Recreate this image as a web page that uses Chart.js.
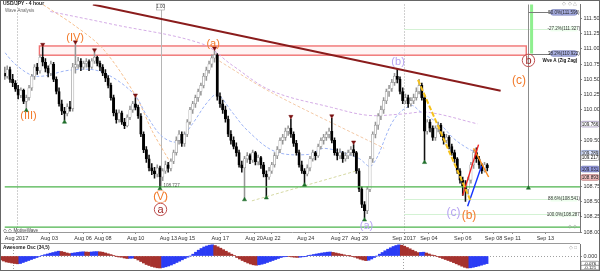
<!DOCTYPE html>
<html><head><meta charset="utf-8">
<script src="https://cdn.jsdelivr.net/npm/chart.js@4.4.1/dist/chart.umd.min.js"></script>
<style>
html,body{margin:0;padding:0;background:#fff;}
#wrap{position:relative;width:600px;height:271px;overflow:hidden;background:#fff}
canvas{position:absolute;left:0}
#main{top:0}
#osc{top:244px}
#frame{position:absolute;left:0;top:0;width:600px;height:271px;box-sizing:border-box;border:1px solid #666;pointer-events:none}
</style></head><body>
<div id="wrap"><canvas id="main" width="600" height="244"></canvas><canvas id="osc" width="600" height="27"></canvas><div id="frame"></div></div>
<script>
// ---------------- DATA ----------------
const opens = [
110.60,110.55,110.66,110.50,110.44,110.34,110.24,110.32,110.14,110.20,
110.36,110.55,110.70,110.64,110.86,110.78,110.68,110.60,110.75,110.50,
110.30,110.10,109.98,109.94,110.05,110.02,110.70,110.74,110.80,110.70,
110.76,110.79,110.70,110.80,110.86,110.76,110.70,110.60,110.52,110.40,
110.20,109.95,109.84,109.95,109.80,109.74,109.88,110.00,110.10,110.04,
109.90,109.60,109.35,109.20,109.05,109.00,108.95,109.05,108.90,109.00,
109.10,109.04,109.16,109.30,109.50,109.60,109.45,109.60,109.80,110.00,
110.10,110.20,110.30,110.40,110.55,110.65,110.75,110.85,110.90,110.22,
110.10,110.00,109.85,109.60,109.50,109.40,109.30,109.10,109.05,109.20,
109.25,109.18,109.30,109.15,109.22,109.10,108.95,108.90,109.00,109.10,
109.25,109.35,109.50,109.55,109.65,109.70,109.60,109.45,109.30,109.10,
109.00,108.95,109.05,109.20,109.30,109.25,109.40,109.50,109.55,109.60,
109.65,109.50,109.30,109.25,109.30,109.20,109.25,109.30,109.35,109.30,
109.00,108.70,108.45,108.35,108.70,109.20,109.60,109.75,109.90,110.00,
110.15,110.30,110.35,110.45,110.55,110.50,110.30,110.15,110.20,110.10,
110.15,110.20,110.30,110.40,110.20,109.65,109.80,109.70,109.55,109.70,
109.75,109.60,109.50,109.55,109.40,109.30,109.20,109.00,108.85,108.75,
108.70,108.85,109.10,109.30,109.20,109.10,109.00,109.10];
const highs = [
110.70,110.72,110.70,110.58,110.48,110.40,110.36,110.34,110.24,110.40,
110.58,110.74,110.76,110.90,111.03,110.84,110.72,110.80,110.78,110.54,
110.36,110.16,110.04,110.10,110.14,110.76,111.07,110.86,110.84,110.80,
110.84,110.82,110.84,110.94,110.88,110.80,110.74,110.66,110.56,110.44,
110.24,110.00,110.00,109.98,109.86,109.92,110.06,110.14,110.20,110.08,
109.94,109.64,109.40,109.26,109.12,109.06,109.10,109.08,109.04,109.16,
109.14,109.20,109.34,109.56,109.66,109.64,109.64,109.84,110.04,110.14,
110.24,110.34,110.44,110.60,110.70,110.80,110.90,110.97,110.92,110.28,
110.16,110.06,109.90,109.66,109.56,109.46,109.34,109.16,109.24,109.30,
109.28,109.34,109.32,109.26,109.24,109.14,109.00,109.06,109.14,109.30,
109.40,109.54,109.60,109.70,109.74,109.85,109.64,109.50,109.34,109.16,
109.04,109.10,109.24,109.34,109.32,109.44,109.54,109.60,109.64,109.70,
109.86,109.54,109.36,109.36,109.32,109.30,109.34,109.40,109.43,109.32,
109.04,108.74,108.50,108.74,109.24,109.64,109.80,109.94,110.06,110.20,
110.34,110.40,110.50,110.60,110.68,110.54,110.36,110.26,110.24,110.20,
110.26,110.36,110.50,110.44,110.24,109.84,109.84,109.74,109.74,109.80,
109.78,109.64,109.60,109.58,109.44,109.34,109.22,109.04,108.90,108.84,
108.90,109.14,109.34,109.38,109.24,109.12,109.14,109.12];
const lows = [
110.50,110.52,110.45,110.38,110.30,110.18,110.20,110.10,110.02,110.16,
110.32,110.50,110.58,110.60,110.72,110.62,110.54,110.56,110.46,110.26,
110.06,109.92,109.83,109.90,109.98,109.98,110.60,110.68,110.64,110.66,
110.70,110.64,110.68,110.76,110.72,110.64,110.56,110.46,110.36,110.16,
109.90,109.78,109.80,109.76,109.69,109.72,109.84,109.96,110.00,109.86,
109.56,109.30,109.14,109.00,108.94,108.88,108.90,108.73,108.84,108.96,
108.98,109.00,109.12,109.26,109.44,109.40,109.40,109.56,109.76,109.94,
110.04,110.14,110.24,110.36,110.48,110.60,110.70,110.78,110.16,110.04,
109.94,109.80,109.56,109.44,109.36,109.24,109.06,108.98,108.56,109.14,
109.12,109.14,109.10,109.10,109.04,108.90,108.59,108.86,108.96,109.06,
109.20,109.30,109.44,109.50,109.58,109.55,109.40,109.26,109.06,108.96,
108.80,108.92,109.00,109.16,109.18,109.22,109.36,109.44,109.50,109.54,
109.46,109.26,109.18,109.20,109.14,109.16,109.20,109.26,109.24,108.96,
108.66,108.40,108.23,108.30,108.66,109.14,109.54,109.68,109.84,109.94,
110.10,110.22,110.30,110.40,110.44,110.26,110.10,110.10,110.04,110.06,
110.10,110.16,110.26,110.16,109.17,109.60,109.64,109.50,109.50,109.64,
109.56,109.44,109.46,109.36,109.26,109.14,108.96,108.80,108.60,108.50,
108.62,108.80,109.04,109.14,109.04,108.96,108.98,109.00];
const closes = [
110.55,110.66,110.50,110.44,110.34,110.24,110.32,110.14,110.20,110.36,
110.55,110.70,110.64,110.86,110.78,110.68,110.60,110.75,110.50,110.30,
110.10,109.98,109.94,110.05,110.02,110.70,110.74,110.80,110.70,110.76,
110.79,110.70,110.80,110.86,110.76,110.70,110.60,110.52,110.40,110.20,
109.95,109.84,109.95,109.80,109.74,109.88,110.00,110.10,110.04,109.90,
109.60,109.35,109.20,109.05,109.00,108.95,109.05,108.90,109.00,109.10,
109.04,109.16,109.30,109.50,109.60,109.45,109.60,109.80,110.00,110.10,
110.20,110.30,110.40,110.55,110.65,110.75,110.85,110.90,110.22,110.10,
110.00,109.85,109.60,109.50,109.40,109.30,109.10,109.05,109.20,109.25,
109.18,109.30,109.15,109.22,109.10,108.95,108.90,109.00,109.10,109.25,
109.35,109.50,109.55,109.65,109.70,109.60,109.45,109.30,109.10,109.00,
108.95,109.05,109.20,109.30,109.25,109.40,109.50,109.55,109.60,109.65,
109.50,109.30,109.25,109.30,109.20,109.25,109.30,109.35,109.30,109.00,
108.70,108.45,108.35,108.70,109.20,109.60,109.75,109.90,110.00,110.15,
110.30,110.35,110.45,110.55,110.50,110.30,110.15,110.20,110.10,110.15,
110.20,110.30,110.40,110.20,109.65,109.80,109.70,109.55,109.70,109.75,
109.60,109.50,109.55,109.40,109.30,109.20,109.00,108.85,108.75,108.70,
108.85,109.10,109.30,109.20,109.10,109.00,109.10,109.05];

const aoValues = [
-0.040,-0.050,-0.060,-0.065,-0.070,-0.075,-0.078,
-0.075,-0.065,-0.055,-0.045,-0.035,-0.025,-0.015,-0.005,
0.006,0.013,0.020,0.028,0.035,0.042,0.048,
0.045,0.038,0.030,0.024,
0.028,0.032,0.036,0.040,0.042,
0.040,0.038,0.040,
0.043,0.044,0.042,0.038,
0.030,0.022,0.014,0.006,-0.002,-0.010,
-0.012,-0.020,-0.025,-0.023,-0.021,-0.026,-0.040,-0.055,-0.070,-0.085,-0.095,-0.105,-0.112,-0.118,-0.120,
-0.115,-0.108,-0.100,-0.090,-0.078,-0.065,-0.052,-0.038,-0.025,-0.012,0.000,0.018,0.038,0.058,
0.075,0.090,0.100,0.108,0.112,
0.105,0.092,0.078,0.063,0.048,0.033,0.018,0.004,
-0.015,-0.030,-0.045,-0.058,-0.070,-0.080,-0.088,-0.092,
-0.088,-0.082,-0.075,-0.065,-0.055,-0.045,-0.035,-0.025,-0.015,-0.008,-0.003,
-0.005,-0.009,-0.012,-0.014,
-0.012,-0.008,-0.003,0.003,0.009,0.015,0.020,0.025,0.030,0.034,0.038,0.040,
0.036,0.030,0.024,0.018,0.012,0.006,0.001,-0.004,-0.012,-0.022,-0.032,-0.040,-0.046,
-0.042,-0.030,-0.015,0.000,0.018,0.035,0.052,0.068,0.082,0.095,0.105,0.112,
0.108,0.098,0.085,0.072,0.058,0.045,0.034,
0.036,0.038,
0.030,0.020,0.010,0.002,-0.006,-0.015,-0.025,-0.035,-0.045,-0.055,-0.066,-0.078,-0.090,-0.102,-0.113,-0.120,
-0.118,-0.113,-0.107,-0.100,-0.092,-0.084,-0.076];

const priceTicks = [108.0,108.25,108.5,108.75,109.0,109.25,109.5,109.75,110.0,110.25,110.5,110.75,111.0,111.25,111.5];
const dateTickIdx = [4.4,16.4,28.8,36.1,48.1,60.1,66.7,79.1,91.5,98,110.4,122.8,130.1,146.5,155.6,168,179.3,186.2,198.3];
const dateTickLabels = ['Aug 2017','Aug 03','Aug 06','Aug 08','Aug 10','Aug 13','Aug 15','Aug 17','Aug 20','Aug 22','Aug 24','Aug 27','Aug 29','Sep 2017','Sep 04','Sep 06','Sep 08','Sep 11','Sep 13'];
const monthIdx = [4.4,146.5];

// moving averages / guide lines (index, price)
const maBlueIdx = [-1,4.4,11.7,24.1,35,47,52.5,57.9,63.4,68.9,74.3,78,83.5,88.9,99.1,111.5,117.3,129.7,134.5,142.9,149.1,152.7,160,164.7,169.8,173.5];
const maBluePrice = [111.00,110.73,110.55,110.65,110.63,110.28,109.88,109.56,109.48,109.77,110.12,110.25,109.96,109.67,109.32,109.27,109.37,109.21,109.08,109.85,110.07,109.96,109.75,109.53,109.37,109.29];
const maPurpleIdx = [16.8,39.7,72.5,83.5,98,119.9,133.4,145.4,155.2,173.5];
const maPurplePrice = [111.61,111.40,111.08,110.73,110.31,110.04,109.91,109.93,109.96,109.77];
const maOrangeIdx = [14.2,25.1,36.1,48.1,54.3,60.5];
const maOrangePrice = [111.72,111.40,111.00,110.23,109.64,109.16];
const maTanIdx = [77.3,98,139.2];
const maTanPrice = [110.84,110.28,109.37];
const chanIdx = [90.7,129];
const chanPrice = [108.51,109.00];

const trendIdx = [32.4,181.9];
const trendPrice = [111.725,110.312];
const greenLevels = [108.739,108.081];

const wYellowIdx = [151.6,170.9], wYellowPrice = [110.49,108.51];
const wRedIdx = [168.0,173.8], wRedPrice = [108.60,109.43];
const wOrangeIdx = [172.0,177.5], wOrangePrice = [109.37,108.90];
const wBlueIdx = [169.8,174.9], wBluePrice = [108.42,109.08];

const swingHighIdx = [14,26,33,48,77,105,120,128];
const swingHighPrice = [111.07,111.11,110.98,110.24,111.01,109.89,109.90,109.47];
const swingLowIdx = [8,22,57,88,96,110,132,154,192.1];
const swingLowPrice = [109.99,109.80,108.71,108.53,108.56,108.77,108.20,109.14,108.72];

const boxIdx = [12.8,191.3];
const boxPrice = [110.895,111.046];

const fibLevels = [111.596,111.327,110.922,108.541,108.287];
const fibTexts = ['50.0%(111.596)','-27.2%(111.327)','38.2%(110.922)','88.6%(108.541)','100.0%(108.287)'];

const waveLabels = [
 {t:'(III)', i:8.8, p:109.90, c:'#f27a2a', s:11},
 {t:'(IV)', i:25.9, p:111.19, c:'#f27a2a', s:11},
 {t:'(V)', i:57.2, p:108.58, c:'#f27a2a', s:11, ring:'#f7b48a'},
 {t:'a', i:57.2, p:108.37, c:'#a02828', s:11, ring:'#c05050'},
 {t:'(a)', i:76.5, p:111.08, c:'#f27a2a', s:11},
 {t:'(b)', i:144.3, p:110.80, c:'#b7a4f2', s:11},
 {t:'(a)', i:132.7, p:108.11, c:'#b7a4f2', s:11},
 {t:'(c)', i:164.6, p:108.33, c:'#b7a4f2', s:12},
 {t:'(b)', i:170.3, p:108.27, c:'#f27a2a', s:12},
 {t:'(c)', i:188.6, p:110.49, c:'#f27a2a', s:12},
 {t:'b', i:192.1, p:110.81, c:'#a02828', s:11, ring:'#c05050'}
];

const axisMarkers = [
 {p:109.766, t:'109.766', f:'#ffffff', b:'#9080b0'},
 {p:109.289, t:'109.289', f:'#dde6ff', b:'#7f8fc0'},
 {p:109.217, t:'109.217', f:'#ffffff', b:'#888888'},
 {p:109.031, t:'109.031', f:'#9da3ea', b:'#5a60a8'},
 {p:108.893, t:'108.893', f:'#f4c6c6', b:'#b06060'}
];

// ---------------- RENDER ----------------
const FONT = "'Liberation Sans', Arial, sans-serif";
Chart.defaults.font.family = FONT;
const pts = (xa, ya) => xa.map((x, i) => ({x, y: ya[i]}));
const lineDs = (data, color, width, dash, order, tension) => ({type:'line', data, borderColor:color, borderWidth:width, borderDash:dash||[], pointRadius:0, tension:tension||0, fill:false, order});

function roundRect(ctx, x, y, w, h, r){ctx.beginPath();ctx.moveTo(x+r,y);ctx.lineTo(x+w-r,y);ctx.arc(x+w-r,y+r,r,-Math.PI/2,0);ctx.lineTo(x+w,y+h-r);ctx.arc(x+w-r,y+h-r,r,0,Math.PI/2);ctx.lineTo(x+r,y+h);ctx.arc(x+r,y+h-r,r,Math.PI/2,Math.PI);ctx.lineTo(x,y+r);ctx.arc(x+r,y+r,r,Math.PI,Math.PI*1.5);ctx.closePath();}

const overlay = {
  id:'overlay',
  beforeDatasetsDraw(chart){
    const {ctx, chartArea:a, scales:{x:xs, y:ys}} = chart;
    const X = v => xs.getPixelForValue(v), Y = v => ys.getPixelForValue(v);
    ctx.save();
    ctx.setLineDash([1,2]); ctx.strokeStyle='#a0a0a0'; ctx.lineWidth=1;
    monthIdx.forEach(m => {const px=Math.round(X(m))+0.5; ctx.beginPath(); ctx.moveTo(px,a.top); ctx.lineTo(px,a.bottom); ctx.stroke();});
    ctx.setLineDash([]);
    ctx.strokeStyle='#d4f2d4'; ctx.lineWidth=1;
    [1,3,4].forEach(k => {const py=Math.round(Y(fibLevels[k]))+0.5; ctx.beginPath(); ctx.moveTo(X(146.5),py); ctx.lineTo(X(200),py); ctx.stroke();});
    const x1=X(boxIdx[0]), x2=X(boxIdx[1]), y1=Y(boxPrice[1]), y2=Y(boxPrice[0]);
    ctx.fillStyle='rgba(255,236,236,0.6)'; ctx.fillRect(x1,y1,x2-x1,y2-y1);
    ctx.strokeStyle='#f07272'; ctx.lineWidth=1.4; ctx.strokeRect(x1,y1,x2-x1,y2-y1);
    ctx.strokeStyle='#b5b5b5'; ctx.lineWidth=1;
    let px=Math.round(X(57.2))+0.5; ctx.beginPath(); ctx.moveTo(px,a.top); ctx.lineTo(px,Y(108.727)); ctx.stroke();
    ctx.strokeStyle='#8c8c8c';
    px=Math.round(X(192.1))+0.5; ctx.beginPath(); ctx.moveTo(px,a.top); ctx.lineTo(px,Y(108.739)); ctx.stroke();
    ctx.fillStyle='#8fef8f'; ctx.fillRect(X(192.7),a.top,X(193.8)-X(192.7),Y(110.922)-a.top);
    ctx.strokeStyle='#7a7a7a';
    [0,2].forEach(k => {const py=Math.round(Y(fibLevels[k]))+0.5; ctx.beginPath(); ctx.moveTo(X(192.1),py); ctx.lineTo(X(200.2),py); ctx.stroke();});
    ctx.restore();
  },
  afterDatasetsDraw(chart){
    const {ctx, chartArea:a, scales:{x:xs, y:ys}} = chart;
    const X = v => xs.getPixelForValue(v), Y = v => ys.getPixelForValue(v);
    ctx.save();
    ctx.textAlign='center'; ctx.textBaseline='middle';
    waveLabels.forEach(l => {
      const x=X(l.i), y=Y(l.p);
      if (l.ring){ctx.beginPath(); ctx.arc(x,y,6.2,0,Math.PI*2); ctx.strokeStyle=l.ring; ctx.lineWidth=1; ctx.stroke();}
      ctx.font = l.s+'px '+FONT; ctx.fillStyle=l.c; ctx.fillText(l.t,x,y+0.5);
    });
    ctx.font='4.5px '+FONT;
    fibLevels.forEach((p,k) => {
      const y=Y(p), xL=X(200.2), w=X(210)-xL;
      if (k===0||k===2){roundRect(ctx,xL,y-2.8,w,5.6,2.5); ctx.fillStyle='#aab1e4'; ctx.fill(); ctx.strokeStyle='#6c74b4'; ctx.lineWidth=0.6; ctx.stroke(); ctx.fillStyle='#222';}
      else {ctx.fillStyle='rgba(236,255,236,0.9)'; ctx.fillRect(xL,y-2.6,w,5.2); ctx.fillStyle='#333';}
      ctx.textAlign='center'; ctx.fillText(fibTexts[k], xL+w/2, y+0.3);
    });
    ctx.font='bold 4.6px '+FONT; ctx.fillStyle='#111'; ctx.textAlign='right';
    ctx.fillText('Wve A (Zig Zag)', X(210), Y(110.81));
    ctx.textAlign='left'; ctx.font='4.5px '+FONT; ctx.fillStyle='#555';
    ctx.fillText('108.727', X(58.3), Y(108.76));
    ctx.strokeStyle='#999'; ctx.lineWidth=0.6; ctx.fillStyle='#fff';
    ctx.fillRect(X(55.8),4,X(58.6)-X(55.8),6); ctx.strokeRect(X(55.8),4,X(58.6)-X(55.8),6);
    ctx.fillStyle='#444'; ctx.textAlign='center'; ctx.fillText('1.00', X(57.2), 7.2);
    ctx.textAlign='left';
    ctx.font='bold 5px '+FONT; ctx.fillStyle='#222'; ctx.fillText('USD/JPY - 4 hour', 3, 4);
    ctx.font='4.5px '+FONT; ctx.fillStyle='#666'; ctx.fillText('Wave Analysis', 5, 10.5);
    ctx.font='4.5px '+FONT; ctx.fillStyle='#444'; ctx.fillText('\u25C7 \u25C7 MotiveWave', 3, a.bottom-1.5);
    ctx.fillStyle='#999'; ctx.textAlign='right'; ctx.fillText('\u25C7 \u25C7 \u25B3', a.right-3, 3.5);
    ctx.fillText('\u25C7 \u25C7', a.right-3, a.bottom-5);
    ctx.restore();
  },
  afterDraw(chart){
    const {ctx, chartArea:a, scales:{y:ys}} = chart;
    ctx.save();
    ctx.font='4.6px '+FONT; ctx.textAlign='center'; ctx.textBaseline='middle';
    axisMarkers.forEach(m => {
      const y=ys.getPixelForValue(m.p);
      roundRect(ctx,a.right+1,y-2.8,18,5.6,1.5); ctx.fillStyle=m.f; ctx.fill(); ctx.strokeStyle=m.b; ctx.lineWidth=0.7; ctx.stroke();
      ctx.fillStyle='#111'; ctx.fillText(m.t, a.right+10, y+0.3);
    });
    ctx.strokeStyle='#9a9a9a'; ctx.lineWidth=1;
    ctx.beginPath(); ctx.moveTo(0,243.5); ctx.lineTo(a.right,243.5); ctx.stroke();
    ctx.restore();
  }
};

const wickData = highs.map((h,i) => ({x:i, y:[lows[i], h]}));
const bodyData = opens.map((o,i) => ({x:i, y:[o, closes[i]]}));
const isBull = i => closes[i] >= opens[i];

new Chart(document.getElementById('main'), {
  type:'bar',
  data:{datasets:[
    lineDs(pts(wYellowIdx,wYellowPrice), '#f6c21c', 2, [5,2], 0),
    lineDs(pts(wRedIdx,wRedPrice), '#f02020', 1.4, [], 0),
    lineDs(pts(wOrangeIdx,wOrangePrice), '#ff8a1a', 1.4, [], 0),
    lineDs(pts(wBlueIdx,wBluePrice), '#1434ff', 1.4, [], 0),
    {type:'scatter', data:pts(swingHighIdx,swingHighPrice), pointStyle:'triangle', rotation:180, pointRadius:2.4, backgroundColor:'#7a1010', borderColor:'#7a1010', borderWidth:0.5, order:0},
    {type:'scatter', data:pts(swingLowIdx,swingLowPrice), pointStyle:'triangle', pointRadius:2.4, backgroundColor:'#1e6e2a', borderColor:'#1e6e2a', borderWidth:0.5, order:0},
    lineDs(pts(trendIdx,trendPrice), '#8a1c1c', 2, [], 1),
    lineDs([{x:0,y:greenLevels[0]},{x:211,y:greenLevels[0]}], '#4cb34c', 1.3, [], 1),
    lineDs([{x:0,y:greenLevels[1]},{x:211,y:greenLevels[1]}], '#4cb34c', 1.3, [], 1),
    {data:bodyData, grouped:false, barThickness:2.4, borderSkipped:false, minBarLength:1,
      backgroundColor:c => isBull(c.dataIndex) ? '#ffffff' : '#000000',
      borderColor:c => isBull(c.dataIndex) ? '#909090' : '#000000', borderWidth:0.6, order:2},
    {data:wickData, grouped:false, barThickness:0.9, borderWidth:0,
      backgroundColor:c => isBull(c.dataIndex) ? '#969696' : '#111111', order:3},
    lineDs(pts(maBlueIdx,maBluePrice), '#9db4f5', 1, [3,2], 4, 0.35),
    lineDs(pts(maPurpleIdx,maPurplePrice), '#d4ace6', 1, [3,2], 4, 0.35),
    lineDs(pts(maOrangeIdx,maOrangePrice), '#f6bf8e', 1, [3,2], 4, 0.3),
    lineDs(pts(maTanIdx,maTanPrice), '#f3c9a6', 1, [3,2], 4, 0.3),
    lineDs(pts(chanIdx,chanPrice), '#d6d9a4', 1, [3,2], 4, 0)
  ]},
  options:{
    animation:false, responsive:false, devicePixelRatio:1,
    layout:{padding:{left:1,right:0,top:0,bottom:0}},
    plugins:{legend:{display:false}, tooltip:{enabled:false}},
    scales:{
      x:{type:'linear', min:0, max:211, offset:false,
        afterBuildTicks(a){a.ticks = dateTickIdx.map(v => ({value:v}));},
        afterFit(a){a.height=12; a.paddingLeft=0; a.paddingRight=0;},
        ticks:{autoSkip:false, maxRotation:0, minRotation:0, padding:1, color:'#333', font:{size:5.5}, callback:(v,i) => dateTickLabels[i]},
        grid:{display:true, drawOnChartArea:false, offset:false, tickLength:2, color:'#888'},
        border:{display:true, color:'#999'}},
      y:{type:'linear', position:'right', min:108.0, max:111.725,
        afterBuildTicks(a){a.ticks = priceTicks.map(v => ({value:v}));},
        afterFit(a){a.width=20; a.paddingTop=0; a.paddingBottom=0;},
        ticks:{padding:1.5, color:'#333', font:{size:5.5}, callback:v => v.toFixed(3)},
        grid:{display:true, drawOnChartArea:false, tickLength:2, color:'#888'},
        border:{display:true, color:'#777', dash:[1,1]}}
    }
  },
  plugins:[overlay]
});

// ---------------- OSCILLATOR ----------------
const oscOverlay = {
  id:'oscOverlay',
  beforeDatasetsDraw(chart){
    const {ctx, chartArea:a, scales:{x:xs, y:ys}} = chart;
    ctx.save();
    ctx.setLineDash([1,2]); ctx.strokeStyle='#a0a0a0'; ctx.lineWidth=1;
    monthIdx.forEach(m => {const px=Math.round(xs.getPixelForValue(m))+0.5; ctx.beginPath(); ctx.moveTo(px,0); ctx.lineTo(px,27); ctx.stroke();});
    const zy=Math.round(ys.getPixelForValue(0))+0.5;
    ctx.beginPath(); ctx.moveTo(a.left,zy); ctx.lineTo(a.right,zy); ctx.stroke();
    ctx.restore();
  },
  afterDraw(chart){
    const {ctx, chartArea:a} = chart;
    ctx.save();
    ctx.font='bold 4.8px '+FONT; ctx.fillStyle='#222'; ctx.textBaseline='middle';
    ctx.fillText('Awesome Osc (34,5)', 3, 4);
    ctx.fillStyle='#999'; ctx.textAlign='right'; ctx.font='4.5px '+FONT; ctx.fillText('\u25C7 \u25A1', a.right-3, 4);
    ctx.font='4.4px '+FONT; ctx.textAlign='center';
    [[19.5,'-0.076'],[23.5,'-0.121']].forEach(([y,t]) => {
      roundRect(ctx,a.right+1,y-2.2,18,4.4,1.2); ctx.fillStyle='#fff'; ctx.fill(); ctx.strokeStyle='#666'; ctx.lineWidth=0.6; ctx.stroke();
      ctx.fillStyle='#111'; ctx.fillText(t, a.right+10, y+0.2);
    });
    ctx.restore();
  }
};

new Chart(document.getElementById('osc'), {
  type:'bar',
  data:{datasets:[{
    data: aoValues.map((v,i) => ({x:i, y:v})),
    grouped:false, barThickness:2.75, borderWidth:0,
    backgroundColor: c => (c.dataIndex > 0 && aoValues[c.dataIndex] >= aoValues[c.dataIndex-1]) ? '#2b3cf5' : '#a5322e'
  }]},
  options:{
    animation:false, responsive:false, devicePixelRatio:1,
    layout:{padding:{left:1,right:0,top:0,bottom:0}},
    plugins:{legend:{display:false}, tooltip:{enabled:false}},
    scales:{
      x:{type:'linear', min:0, max:211, offset:false, display:false},
      y:{type:'linear', position:'right', min:-0.15, max:0.12,
        afterBuildTicks(a){a.ticks=[{value:0}];},
        afterFit(a){a.width=20; a.paddingTop=0; a.paddingBottom=0;},
        ticks:{padding:1.5, color:'#333', font:{size:5.5}, callback:v => v.toFixed(3)},
        grid:{display:true, drawOnChartArea:false, tickLength:2, color:'#888'},
        border:{display:true, color:'#777', dash:[1,1]}}
    }
  },
  plugins:[oscOverlay]
});
</script></body></html>
